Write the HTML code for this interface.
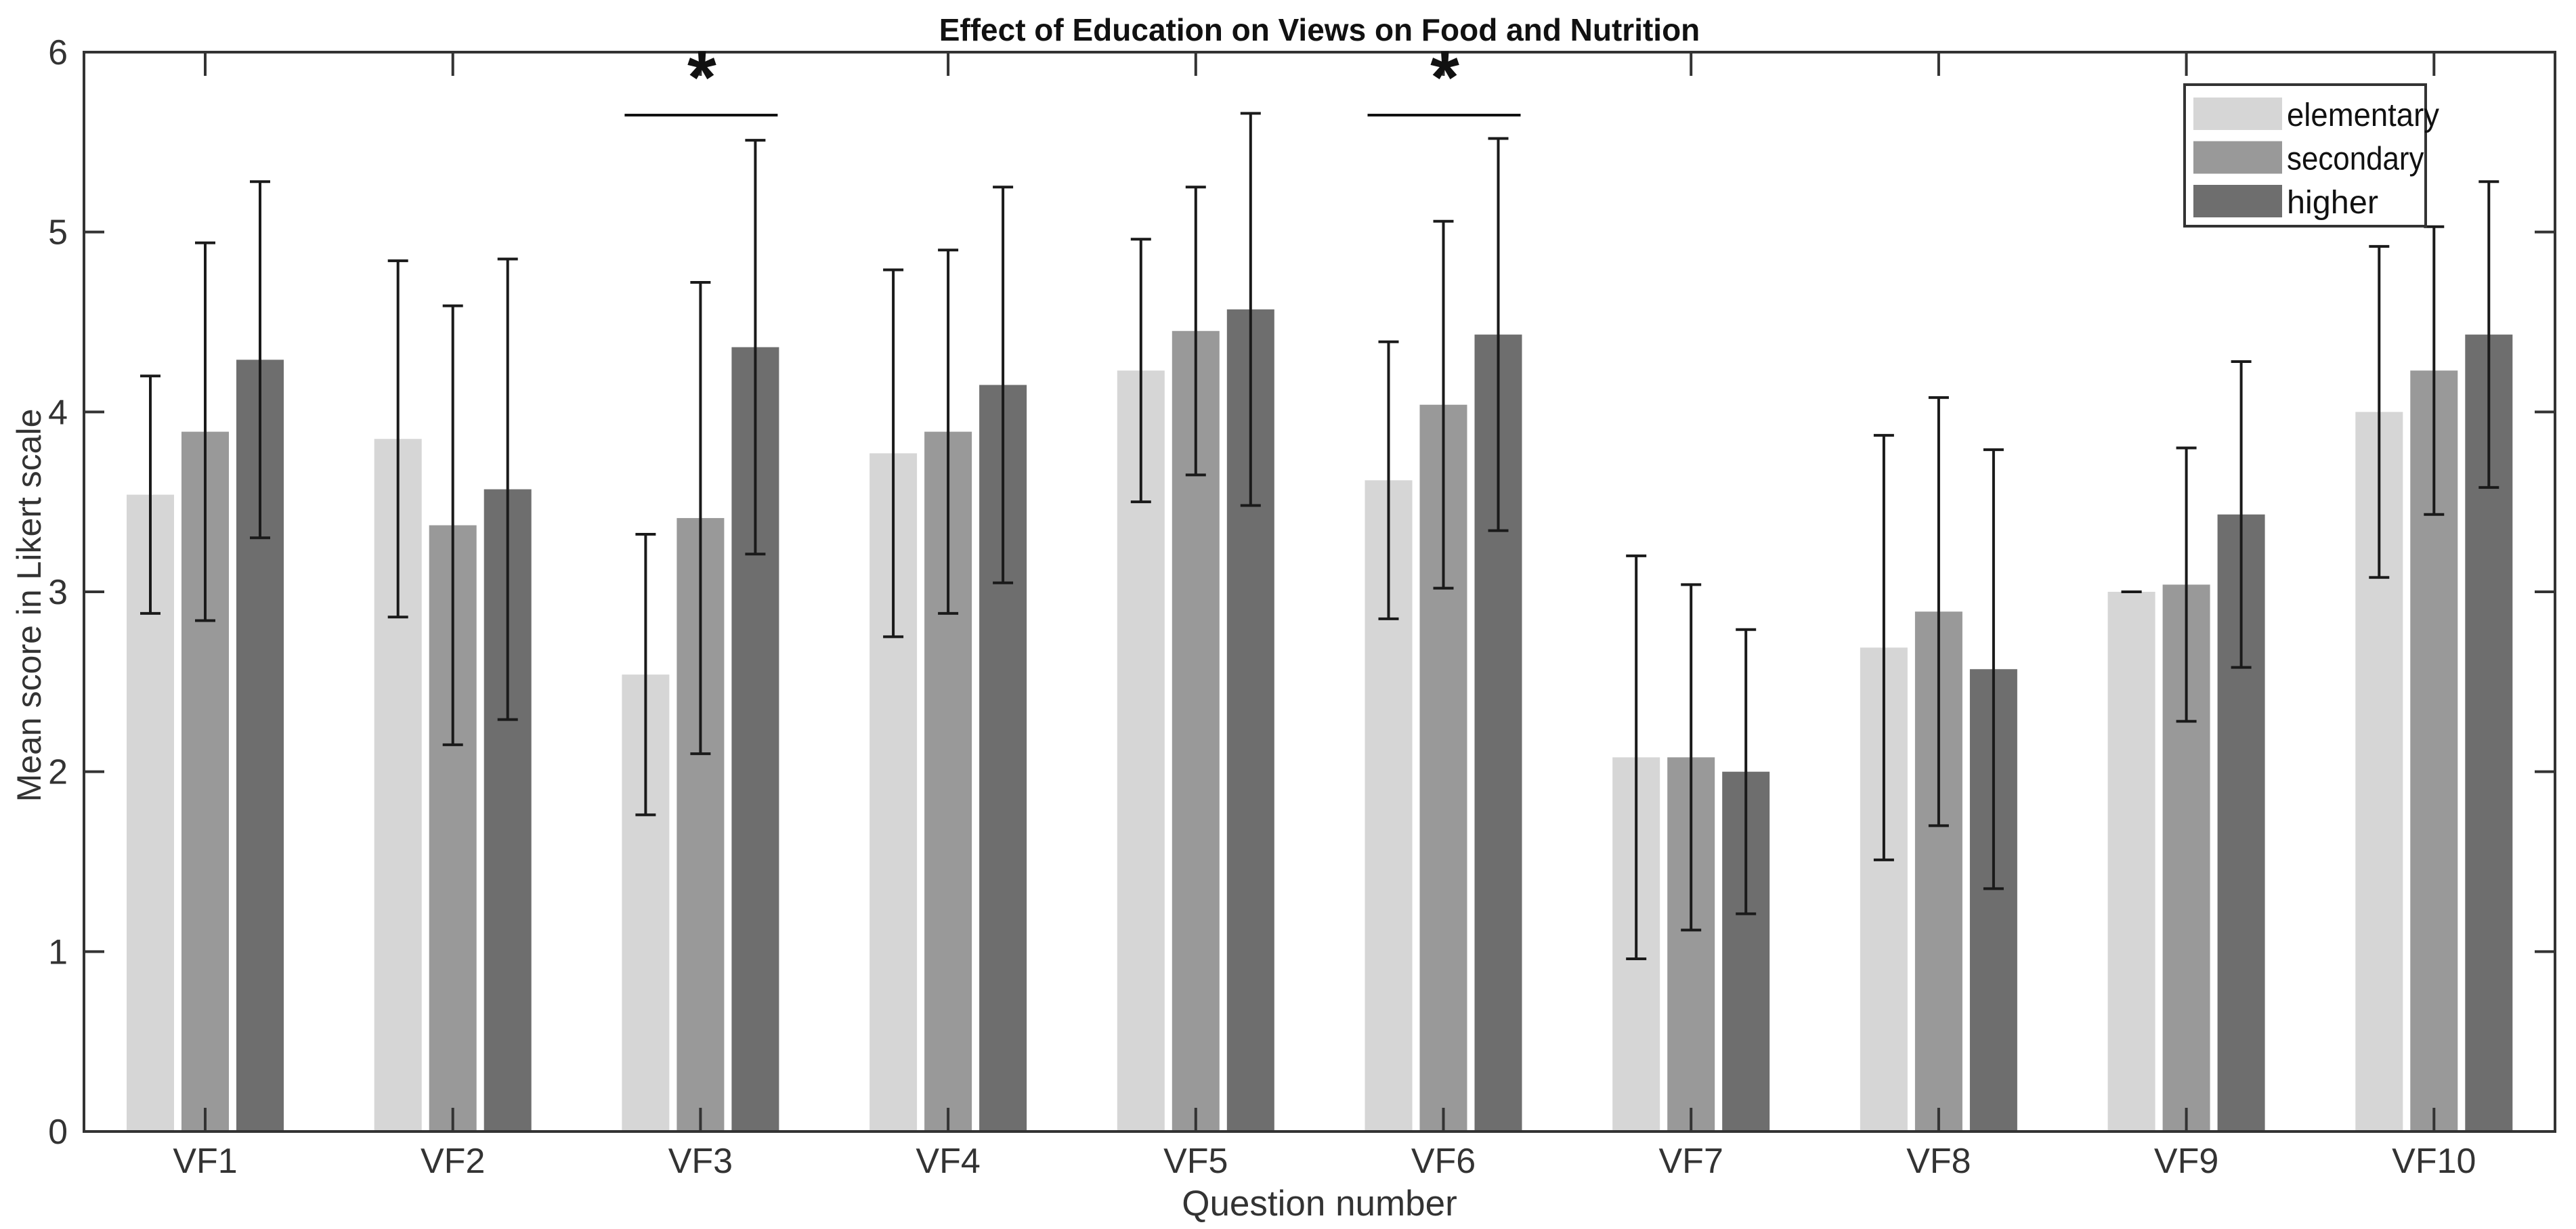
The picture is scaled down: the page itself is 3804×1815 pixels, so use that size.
<!DOCTYPE html>
<html><head><meta charset="utf-8"><style>
html,body{margin:0;padding:0;background:#fff;}
svg{display:block;font-family:"Liberation Sans",Arial,sans-serif;}
</style></head><body>
<svg id="chart" width="3804" height="1815" viewBox="0 0 3804 1815"></svg>
<script>
const categories=["VF1","VF2","VF3","VF4","VF5","VF6","VF7","VF8","VF9","VF10"];
const seriesNames=["elementary","secondary","higher"];
const elementaryMean=[3.54,3.85,2.54,3.77,4.23,3.62,2.08,2.69,3.00,4.00];
const secondaryMean=[3.89,3.37,3.41,3.89,4.45,4.04,2.08,2.89,3.04,4.23];
const higherMean=[4.29,3.57,4.36,4.15,4.57,4.43,2.00,2.57,3.43,4.43];
const elementaryErr=[0.66,0.99,0.78,1.02,0.73,0.77,1.12,1.18,0.00,0.92];
const secondaryErr=[1.05,1.22,1.31,1.01,0.80,1.02,0.96,1.19,0.76,0.80];
const higherErr=[0.99,1.28,1.15,1.10,1.09,1.09,0.79,1.22,0.85,0.85];
const yTicks=[0,1,2,3,4,5,6];
const sigGroups=[2,5];
const sigLevel=5.65;

const colors=["#d6d6d6","#999999","#6e6e6e"];
const means=[elementaryMean,secondaryMean,higherMean];
const errs=[elementaryErr,secondaryErr,higherErr];
const L=124,R=3773,T=77,B=1671;
const yMin=0,yMax=6;
const y=v=>B-(v-yMin)/(yMax-yMin)*(B-T);
const x=i=>303+i*365.7;
const NS="http://www.w3.org/2000/svg";
const svg=document.getElementById('chart');
function mk(tag,attrs,parent){const e=document.createElementNS(NS,tag);for(const k in attrs)e.setAttribute(k,attrs[k]);(parent||svg).appendChild(e);return e;}

means.forEach((arr,s)=>{arr.forEach((v,i)=>{
  const cx=x(i)+(s-1)*81;
  const r=mk('rect',{x:cx-35,y:y(v),width:70,height:y(0)-y(v),fill:colors[s]});
  
  
});});
means.forEach((arr,s)=>{arr.forEach((v,i)=>{
  const cx=x(i)+(s-1)*81;const e=errs[s][i];
  const g=mk('g',{stroke:'#1a1a1a','stroke-width':4});
  
  
  mk('line',{x1:cx,x2:cx,y1:y(v-e),y2:y(v+e)},g);
  mk('line',{x1:cx-15,x2:cx+15,y1:y(v-e),y2:y(v-e)},g);
  mk('line',{x1:cx-15,x2:cx+15,y1:y(v+e),y2:y(v+e)},g);
});});
const ax=mk('rect',{x:L,y:T,width:R-L,height:B-T,fill:'none',stroke:'#333','stroke-width':4});


yTicks.forEach(t=>{
  mk('line',{x1:L,x2:L+30,y1:y(t),y2:y(t),stroke:'#333','stroke-width':4});
  mk('line',{x1:R,x2:R-30,y1:y(t),y2:y(t),stroke:'#333','stroke-width':4});
  const tx=mk('text',{x:L-24,y:y(t)+18,'text-anchor':'end','font-size':52,fill:'#333'});
  tx.textContent=t;
  
  
});
categories.forEach((c,i)=>{
  mk('line',{x1:x(i),x2:x(i),y1:B,y2:B-35,stroke:'#333','stroke-width':4});
  mk('line',{x1:x(i),x2:x(i),y1:T,y2:T+35,stroke:'#333','stroke-width':4});
  const tx=mk('text',{x:x(i),y:1732,'text-anchor':'middle','font-size':52,fill:'#333'});
  tx.textContent=c;
  
  
});
sigGroups.forEach(i=>{
  const ln=mk('line',{x1:x(i)-112,x2:x(i)+114,y1:y(sigLevel),y2:y(sigLevel),stroke:'#111','stroke-width':4});
  
  
  const st=mk('text',{x:x(i)+2,y:y(sigLevel)-18,'text-anchor':'middle','font-size':110,'font-weight':'bold',fill:'#111'});
  st.textContent='*';
  
  
});
const title=mk('text',{x:(L+R)/2,y:60,'text-anchor':'middle','font-size':46,'font-weight':'bold',fill:'#111'});
title.textContent='Effect of Education on Views on Food and Nutrition';


const xl=mk('text',{x:(L+R)/2,y:1795,'text-anchor':'middle','font-size':53,fill:'#333'});
xl.textContent='Question number';


const yl=mk('text',{x:0,y:0,'text-anchor':'middle','font-size':50,fill:'#333',transform:'translate(60,'+((T+B)/2+20)+') rotate(-90)'});
yl.textContent='Mean score in Likert scale';


const lg=mk('g',{});


mk('rect',{x:3226,y:125,width:356,height:209,fill:'#fff',stroke:'#333','stroke-width':4},lg);
seriesNames.forEach((n,s)=>{
  const g=mk('g',{},lg);
  
  
  const yy=144+s*64.5;
  mk('rect',{x:3239,y:yy,width:131,height:48,fill:colors[s]},g);
  const t=mk('text',{x:3377,y:yy+42,'font-size':48,fill:'#111',textLength:n.length*22.5,lengthAdjust:'spacingAndGlyphs'},g);
  t.textContent=n;
});
</script>
</body></html>
